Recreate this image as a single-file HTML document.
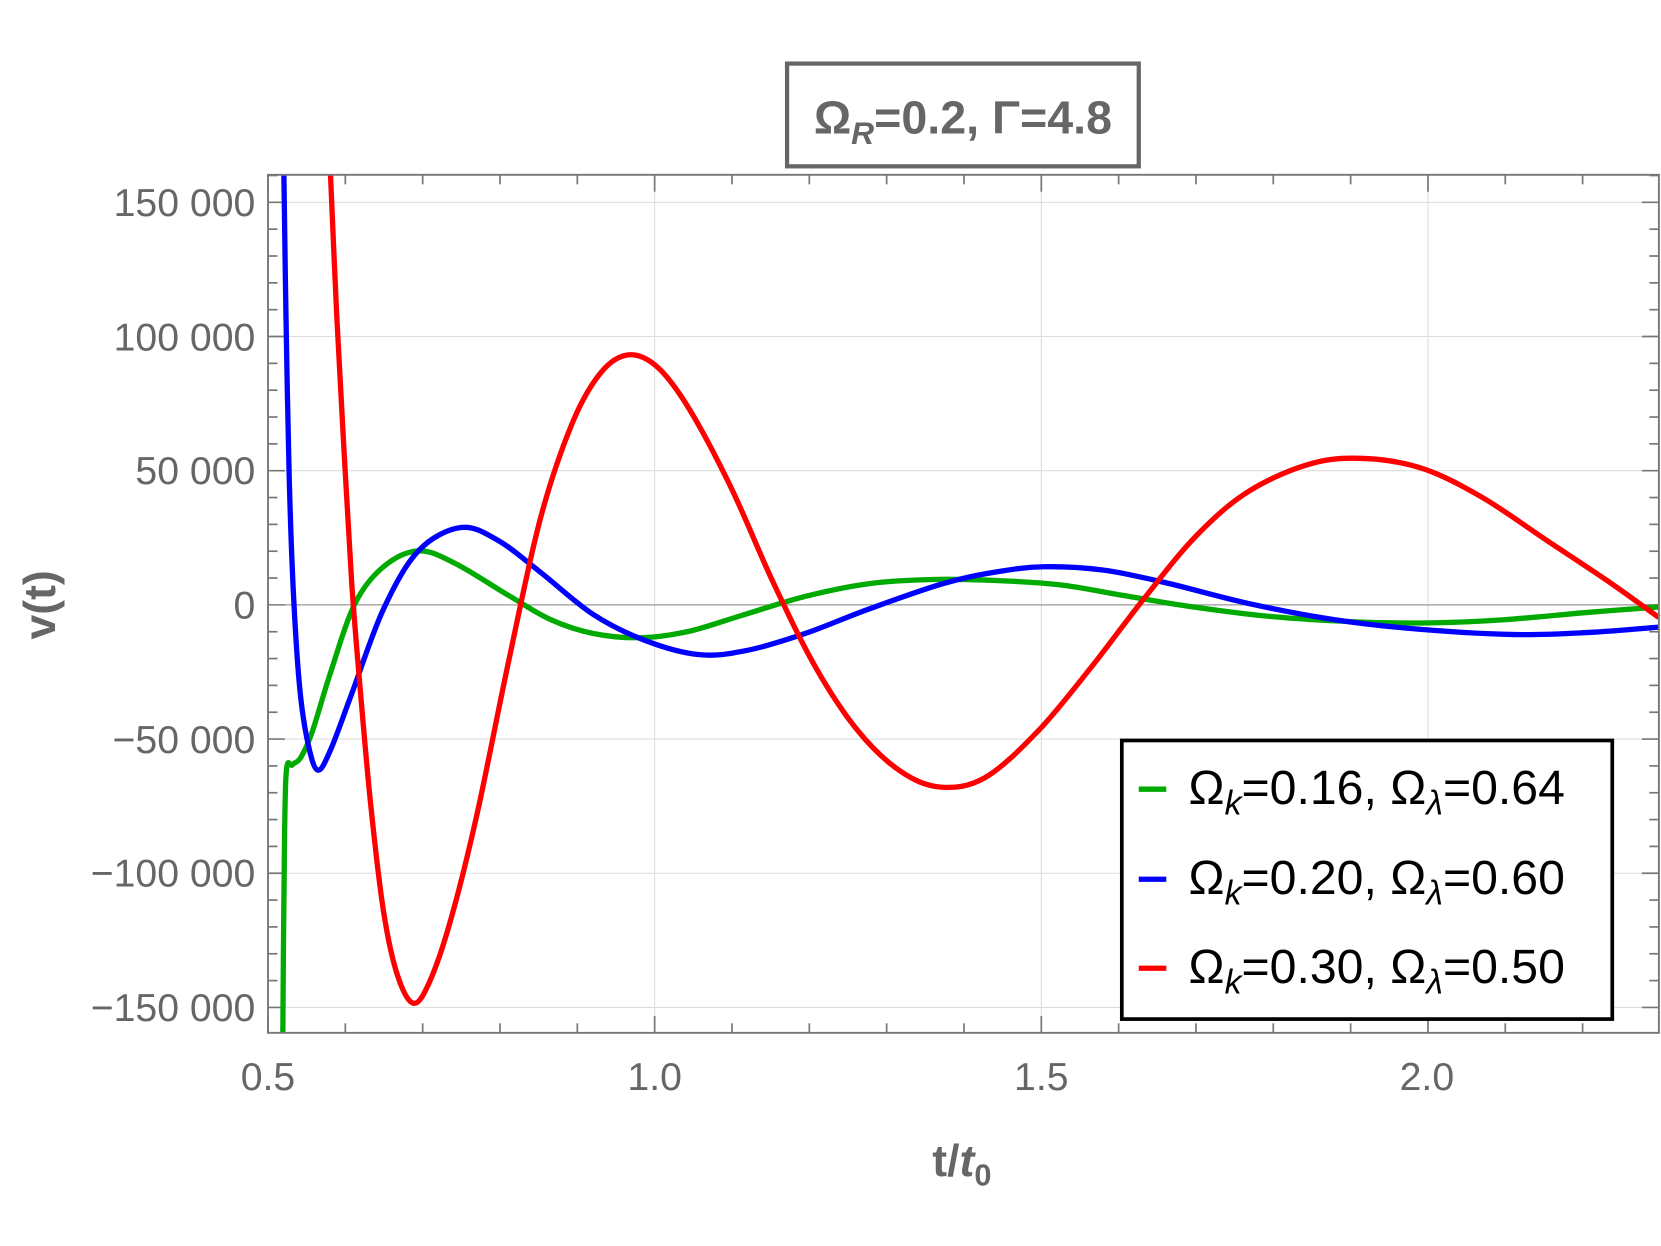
<!DOCTYPE html>
<html><head><meta charset="utf-8"><style>
html,body{margin:0;padding:0;background:#fff;}
svg{display:block;}
text{font-family:"Liberation Sans","DejaVu Sans",sans-serif;}
</style></head><body>
<svg id="s" width="1661" height="1246" viewBox="0 0 1568 1176.2" xmlns="http://www.w3.org/2000/svg">
<rect width="1568" height="1177" fill="#fff"/>
<g id="grid" stroke="#ddd" stroke-width="1"></g>
<g id="ticks" stroke="#777" stroke-width="1.6"></g>
<line x1="253" y1="571" x2="1566" y2="571" stroke="#999" stroke-width="1.2"/>
<g fill="none" stroke-width="5" stroke-linejoin="round">
<path id="g" stroke="#00aa00"/>
<path id="b" stroke="#0000ff"/>
<path id="r" stroke="#ff0000"/>
</g>
<rect x="253" y="165" width="1313" height="810" fill="none" stroke="#777" stroke-width="1.8"/>
<g fill="#666" font-size="37" text-anchor="end">
<text x="241" y="204">150 000</text>
<text x="241" y="331">100 000</text>
<text x="241" y="457">50 000</text>
<text x="241" y="584">0</text>
<text x="241" y="711">−50 000</text>
<text x="241" y="837">−100 000</text>
<text x="241" y="964">−150 000</text>
</g>
<g fill="#666" font-size="37" text-anchor="middle">
<text x="253" y="1029">0.5</text>
<text x="618" y="1029">1.0</text>
<text x="983" y="1029">1.5</text>
<text x="1347" y="1029">2.0</text>
</g>
<text x="908" y="1110" fill="#666" font-size="42" font-weight="bold" text-anchor="middle">t/<tspan font-style="italic">t</tspan><tspan font-size="29" dy="9">0</tspan></text>
<text transform="translate(52,571) rotate(-90)" fill="#666" font-size="42" font-weight="bold" text-anchor="middle">v(t)</text>
<rect x="743" y="60" width="332" height="97" fill="#fff" stroke="#666" stroke-width="4"/>
<text x="909" y="126" fill="#666" font-size="44" font-weight="bold" text-anchor="middle">Ω<tspan font-style="italic" font-size="30" dy="10">R</tspan><tspan dy="-10">=0.2, Γ=4.8</tspan></text>
<rect x="1059" y="699" width="463" height="263" fill="#fff" stroke="#000" stroke-width="3.5"/>
<g font-size="45.5" fill="#000">
<line x1="1075" y1="745" x2="1101" y2="745" stroke="#00aa00" stroke-width="5"/>
<text x="1122" y="759">Ω<tspan font-style="italic" font-size="32" dy="10">k</tspan><tspan dy="-10">=0.16, Ω</tspan><tspan font-style="italic" font-size="32" dy="10">λ</tspan><tspan dy="-10">=0.64</tspan></text>
<line x1="1075" y1="830" x2="1101" y2="830" stroke="#0000ff" stroke-width="5"/>
<text x="1122" y="844">Ω<tspan font-style="italic" font-size="32" dy="10">k</tspan><tspan dy="-10">=0.20, Ω</tspan><tspan font-style="italic" font-size="32" dy="10">λ</tspan><tspan dy="-10">=0.60</tspan></text>
<line x1="1075" y1="914" x2="1101" y2="914" stroke="#ff0000" stroke-width="5"/>
<text x="1122" y="928">Ω<tspan font-style="italic" font-size="32" dy="10">k</tspan><tspan dy="-10">=0.30, Ω</tspan><tspan font-style="italic" font-size="32" dy="10">λ</tspan><tspan dy="-10">=0.50</tspan></text>
</g>
</svg>
<script>
var NS="http://www.w3.org/2000/svg";
function L(g,x1,y1,x2,y2){var l=document.createElementNS(NS,"line");l.setAttribute("x1",x1);l.setAttribute("y1",y1);l.setAttribute("x2",x2);l.setAttribute("y2",y2);document.getElementById(g).appendChild(l);}
for(var i=0;i<=18;i++){var x=253+i*73;if(x>1566)break;var maj=(i%5==0);
 if(maj&&i>0)L("grid",x,165,x,975);
 var len=maj?16:9;L("ticks",x,975,x,975-len);L("ticks",x,165,x,165+len);}
var py=126.67/50000;
for(var v=-160000;v<=160000;v+=10000){var y=571-v*py;if(y<165||y>975)continue;var maj=(v%50000==0);
 if(maj&&v!=0)L("grid",253,y,1566,y);
 var len=maj?16:9;L("ticks",253,y,253+len,y);L("ticks",1566,y,1566-len,y);}
function cr(p){var d="M"+p[0][0]+","+p[0][1];for(var i=0;i<p.length-1;i++){var p0=p[i-1]||p[i],p1=p[i],p2=p[i+1],p3=p[i+2]||p2;
 d+=" C"+(p1[0]+(p2[0]-p0[0])/6)+","+(p1[1]+(p2[1]-p0[1])/6)+" "+(p2[0]-(p3[0]-p1[0])/6)+","+(p2[1]-(p3[1]-p1[1])/6)+" "+p2[0]+","+p2[1];}return d;}
var G=[[267,975],[268,850],[270,732],[276,722],[284,715],[295,690],[312,635],[335,570],[362,535],[395,520],[430,532],[480,562],[520,585],[560,598],[605,602],[650,596],[700,581],[760,563],[820,551],[880,547],[940,548],[1000,552],[1060,562],[1120,572],[1200,582],[1280,587],[1350,588],[1420,585],[1500,578],[1566,573]];
var B=[[268,165],[270,300],[273,450],[277,560],[283,650],[291,703],[300,727],[312,708],[332,655],[362,575],[395,520],[435,498],[470,510],[510,540],[560,580],[610,605],[660,618],[705,614],[760,598],[820,575],[890,551],[940,540],[985,535],[1040,538],[1100,550],[1180,570],[1260,585],[1340,594],[1430,599],[1500,597],[1566,592]];
var R=[[312,165],[318,300],[325,430],[332,550],[340,650],[350,760],[362,860],[375,920],[390,947],[405,928],[425,870],[450,770],[480,625],[510,490],[540,400],[567,352],[593,335],[620,346],[650,385],[690,460],[730,550],[770,630],[810,690],[850,728],[888,743],[930,734],[980,690],[1030,630],[1080,565],[1130,505],[1180,463],[1240,437],[1292,433],[1345,443],[1400,470],[1460,510],[1520,550],[1566,583]];
document.getElementById("g").setAttribute("d",cr(G));
document.getElementById("b").setAttribute("d",cr(B));
document.getElementById("r").setAttribute("d",cr(R));
</script>
</body></html>
